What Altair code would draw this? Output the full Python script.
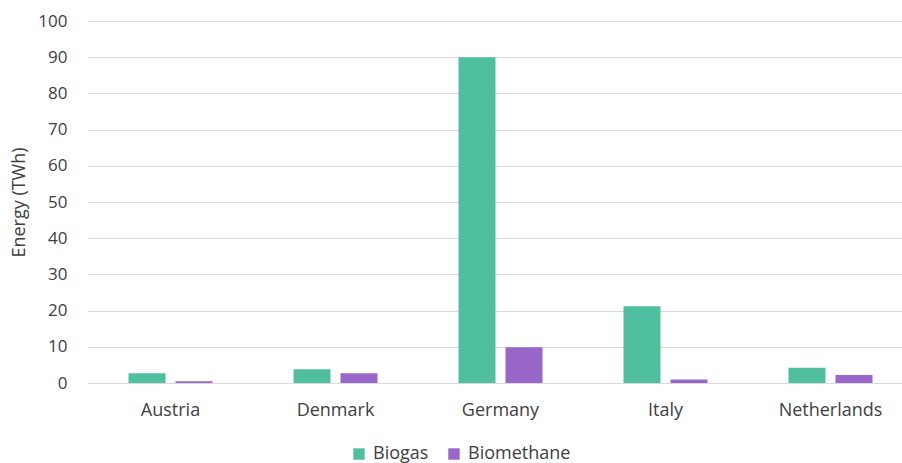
import altair as alt
import pandas as pd

# Annual biogas and biomethane production by country (TWh)
countries = ["Austria", "Denmark", "Germany", "Italy", "Netherlands"]
sources = ["Biogas", "Biomethane"]
biogas = [2.7, 3.8, 90.0, 21.2, 4.2]
biomethane = [0.5, 2.7, 9.9, 1.0, 2.2]
y_ticks = list(range(0, 101, 10))

rows = []
for c, bg, bm in zip(countries, biogas, biomethane):
    rows.append({"country": c, "source": "Biogas", "value": bg})
    rows.append({"country": c, "source": "Biomethane", "value": bm})
df = pd.DataFrame(rows)

FONT = "Open Sans"
TEXT = "#404040"

chart = (
    alt.Chart(df)
    .mark_bar()
    .encode(
        x=alt.X(
            "country:N",
            sort=countries,
            scale=alt.Scale(range=[0, 825], paddingInner=0, paddingOuter=0),
            axis=alt.Axis(
                title=None, labelAngle=0, domain=False, ticks=False,
                labelPadding=18, labelFontSize=18, labelColor=TEXT,
                labelFont=FONT, grid=False,
            ),
        ),
        xOffset=alt.XOffset(
            "source:N", sort=sources,
            scale=alt.Scale(paddingInner=0.213, paddingOuter=0.862),
        ),
        y=alt.Y(
            "value:Q",
            scale=alt.Scale(domain=[0, 100], nice=False),
            axis=alt.Axis(
                title="Energy (TWh)", values=y_ticks, domain=False, ticks=False,
                labelPadding=21, labelFontSize=17, labelColor=TEXT, labelFont=FONT,
                titleFont=FONT, titleFontSize=18, titleFontWeight="normal",
                titleColor=TEXT, titlePadding=9,
                gridColor="#d9d9d9", gridWidth=1,
            ),
        ),
        color=alt.Color(
            "source:N", sort=sources,
            scale=alt.Scale(domain=sources, range=["#50bfa0", "#9966c9"]),
            legend=alt.Legend(
                title=None, orient="none", legendX=262, legendY=424,
                direction="horizontal", symbolType="square", symbolSize=130,
                symbolStrokeWidth=0, labelFont=FONT, labelFontSize=18,
                labelColor=TEXT, columnPadding=16, labelOffset=5, padding=0,
            ),
        ),
    )
    .properties(
        width=814, height=362,
        background="white",
        padding={"left": 88, "top": 21, "right": 0, "bottom": 80},
        autosize=alt.AutoSizeParams(type="none"),
    )
    .configure_view(stroke="transparent", strokeWidth=0)
)

chart.save("out.html", embed_options={"renderer": "svg", "actions": False})
